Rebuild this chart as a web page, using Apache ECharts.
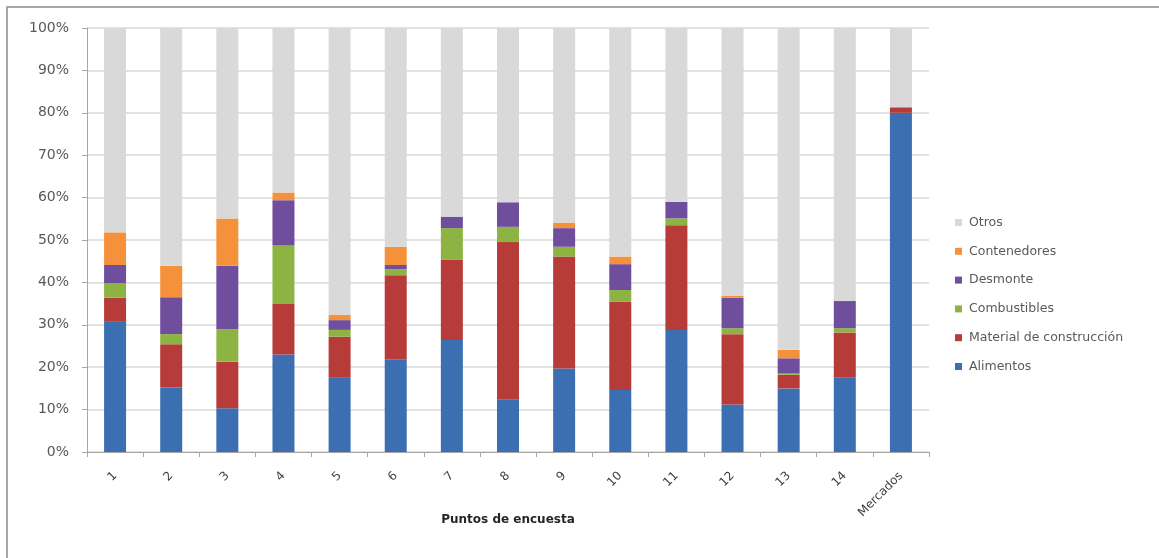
<!DOCTYPE html>
<html>
<head>
<meta charset="utf-8">
<script src="https://cdn.jsdelivr.net/npm/echarts@6/dist/echarts.min.js"></script>
<style>
  html, body { margin: 0; padding: 0; background: #ffffff; }
  #chart { width: 1159px; height: 558px; }
</style>
</head>
<body>
<div id="chart"></div>
<script>
// Survey points along the x axis
const categories = ['1', '2', '3', '4', '5', '6', '7', '8', '9', '10', '11', '12', '13', '14', 'Mercados'];

// Share of each waste type per survey point (%)
const alimentos      = [30.7, 15.2, 10.3, 23.0, 17.5, 21.9, 26.4, 12.3, 19.7, 14.6, 28.8, 11.2, 15.0, 17.5, 80.0];
const material       = [ 5.7, 10.2, 11.0, 11.9,  9.7, 19.8, 18.9, 37.2, 26.4, 20.8, 24.7, 16.6,  3.2, 10.7,  1.3];
const combustibles   = [ 3.4,  2.4,  7.7, 13.8,  1.6,  1.4,  7.5,  3.6,  2.3,  2.8,  1.6,  1.4,  0.3,  1.0,  0.0];
const desmonte       = [ 4.3,  8.7, 14.9, 10.7,  2.3,  1.0,  2.7,  5.8,  4.4,  6.1,  3.9,  7.2,  3.6,  6.4,  0.0];
const contenedores   = [ 7.7,  7.4, 11.2,  1.8,  1.2,  4.3,  0.0,  0.0,  1.3,  1.8,  0.0,  0.4,  2.0,  0.0,  0.0];
const otros          = [48.2, 56.1, 44.9, 38.8, 67.7, 51.6, 44.5, 41.1, 45.9, 53.9, 41.0, 63.2, 75.9, 64.4, 18.7];

const yTicks = { min: 0, max: 100, interval: 10 };

const seriesDefs = [
  { name: 'Alimentos', data: alimentos, color: '#3c6fb1' },
  { name: 'Material de construcción', data: material, color: '#b73c39' },
  { name: 'Combustibles', data: combustibles, color: '#8db443' },
  { name: 'Desmonte', data: desmonte, color: '#6f4e9e' },
  { name: 'Contenedores', data: contenedores, color: '#f6913b' },
  { name: 'Otros', data: otros, color: '#d9d9d9' }
];

const font = 'DejaVu Sans, Verdana, sans-serif';

const chart = echarts.init(document.getElementById('chart'), null, { renderer: 'canvas' });

chart.setOption({
  animation: false,
  backgroundColor: '#ffffff',
  textStyle: { fontFamily: font },
  graphic: [{
    type: 'rect',
    shape: { x: 7, y: 7, width: 1200, height: 600 },
    style: { fill: 'none', stroke: '#8c8c8c', lineWidth: 1.5 },
    silent: true
  }],
  grid: { left: 87, right: 230, top: 28, bottom: 106 },
  legend: {
    orient: 'vertical',
    left: 950,
    top: 211,
    itemWidth: 7,
    itemHeight: 7,
    itemGap: 15.8,
    icon: 'rect',
    data: ['Otros', 'Contenedores', 'Desmonte', 'Combustibles', 'Material de construcción', 'Alimentos'],
    textStyle: { color: '#595959', fontSize: 12.5, fontFamily: font, padding: [0, 0, 0, 2] }
  },
  xAxis: {
    type: 'category',
    data: categories,
    name: 'Puntos de encuesta',
    nameLocation: 'middle',
    nameGap: 62,
    nameMoveOverlap: false,
    nameTextStyle: { color: '#262626', fontSize: 12, fontWeight: 'bold', fontFamily: font },
    axisLine: { lineStyle: { color: '#a6a6a6', width: 1 } },
    axisTick: { show: true, length: 5, lineStyle: { color: '#a6a6a6' } },
    axisLabel: { rotate: 45, color: '#404040', fontSize: 12, margin: 22, fontFamily: font }
  },
  yAxis: {
    type: 'value',
    min: yTicks.min,
    max: yTicks.max,
    interval: yTicks.interval,
    axisLine: { show: true, lineStyle: { color: '#a6a6a6', width: 1 } },
    axisTick: { show: true, length: 5, lineStyle: { color: '#a6a6a6' } },
    axisLabel: { formatter: '{value}%', color: '#595959', fontSize: 14, margin: 18, fontFamily: font },
    splitLine: { lineStyle: { color: '#d9d9d9', width: 1.5 } }
  },
  series: seriesDefs.map(s => ({
    name: s.name,
    type: 'bar',
    stack: 'total',
    barWidth: 22,
    data: s.data,
    itemStyle: { color: s.color }
  }))
});
</script>
</body>
</html>
